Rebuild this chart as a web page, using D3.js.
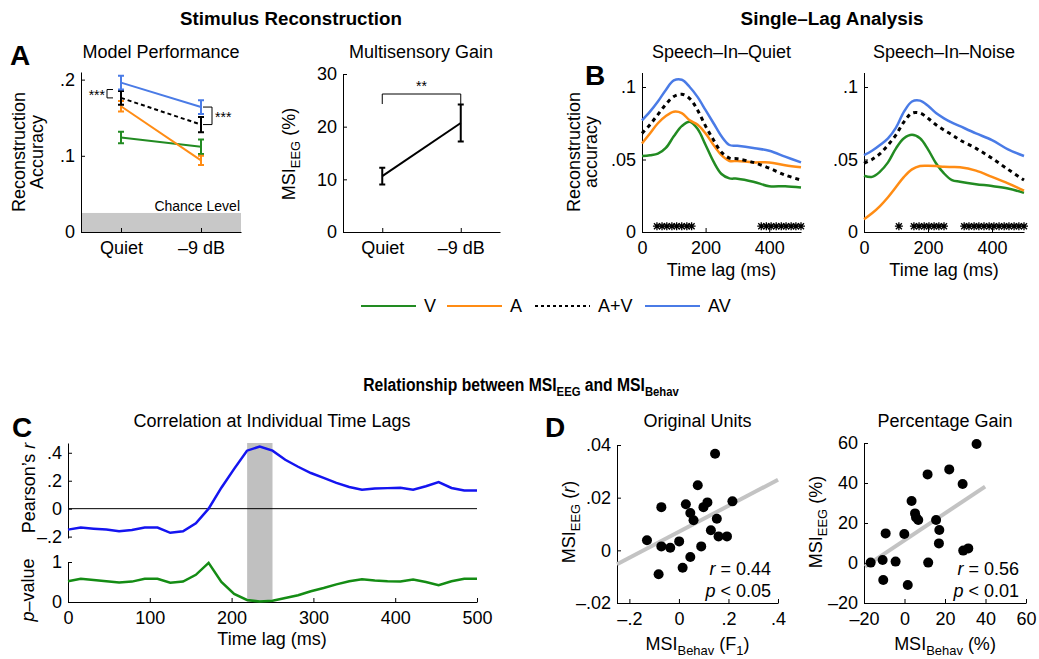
<!DOCTYPE html>
<html>
<head>
<meta charset="utf-8">
<script src="https://cdn.jsdelivr.net/npm/d3@7"></script>
<style>
  body { margin: 0; background: #fff; }
</style>
</head>
<body>
<script>
// ---------------- data ----------------
var conditions = ["V", "A", "A+V", "AV"];

// A: model performance
var perfLevels = ["Quiet", "\u20139 dB"];
var perfV = [0.124, 0.112],     perfVErr = [0.0075, 0.0095];
var perfA = [0.165, 0.094],     perfAErr = [0.007, 0.006];
var perfAplusV = [0.176, 0.141], perfAplusVErr = [0.009, 0.010];
var perfAV = [0.196, 0.164],    perfAVErr = [0.009, 0.009];
var chanceLevel = 0.025;
var perfSigLo = [0.176, 0.141];   // bracket ends, per level
var perfSigHi = [0.187, 0.164];

// A: multisensory gain
var gainMean = [10.6, 20.7];
var gainErr = [1.6, 3.5];
var gainSig = [24.3, 26.2];

// B: single-lag analysis
var lagB = [0, 25, 50, 75, 100, 125, 150, 175, 200, 225, 250, 275, 300, 350, 400, 450, 500];
var quietAV    = [.077, .083, .090, .098, .1045, .105, .100, .093, .084, .075, .066, .060, .0595, .058, .056, .052, .048];
var quietAplusV= [.068, .074, .081, .088, .0935, .095, .092, .084, .073, .0635, .055, .051, .0505, .048, .044, .0393, .0358];
var quietA     = [.061, .068, .075, .080, .083, .082, .077, .074, .068, .060, .053, .049, .049, .048, .048, .046, .0446];
var quietV     = [.0524, .053, .054, .058, .066, .073, .076, .071, .060, .0485, .040, .037, .0368, .0347, .0316, .0316, .0307];
var noiseAV    = [.053, .056, .060, .0646, .072, .083, .090, .0906, .087, .082, .0784, .0755, .073, .068, .0634, .057, .0524];
var noiseAplusV= [.0474, .050, .054, .060, .067, .076, .082, .082, .0784, .074, .0703, .067, .0634, .0577, .0508, .0432, .0358];
var noiseA     = [.0088, .0129, .0179, .024, .031, .038, .0432, .0455, .0457, .0455, .045, .0448, .0446, .0423, .038, .0336, .0285];
var noiseV     = [.0388, .038, .0416, .048, .0577, .0646, .067, .0646, .057, .0474, .0404, .0358, .0347, .033, .0317, .030, .027];
var sigLagsQuiet = [47, 63, 78, 94, 109, 125, 141, 156, 375, 391, 406, 422, 438, 453, 469, 484, 500];
var sigLagsNoise = [109, 156, 172, 188, 203, 219, 234, 250, 313, 328, 344, 359, 375, 391, 406, 422, 438, 453, 469, 484, 500];
var sigMarkLevel = 0.004;

// C: correlation at individual lags
var lagC = [0, 15.6, 31.3, 46.9, 62.5, 78.1, 93.8, 109.4, 125, 140.6, 156.3, 171.9, 187.5, 203.1, 218.8, 234.4,
            250, 265.6, 281.3, 296.9, 312.5, 328.1, 343.8, 359.4, 375, 390.6, 406.3, 421.9, 437.5, 453.1, 468.8, 484.4, 500];
var pearsonR = [-0.15, -0.135, -0.143, -0.15, -0.162, -0.152, -0.135, -0.135, -0.173, -0.162, -0.105, 0.0, 0.15, 0.285, 0.415, 0.445,
                0.415, 0.35, 0.30, 0.255, 0.22, 0.185, 0.155, 0.135, 0.145, 0.147, 0.15, 0.136, 0.16, 0.19, 0.148, 0.13, 0.13];
var pValue = [0.52, 0.58, 0.55, 0.52, 0.49, 0.51, 0.58, 0.58, 0.48, 0.51, 0.68, 0.98, 0.5, 0.2, 0.05, 0.01,
              0.03, 0.1, 0.17, 0.27, 0.35, 0.44, 0.52, 0.57, 0.54, 0.52, 0.51, 0.56, 0.5, 0.42, 0.52, 0.58, 0.58];
var sigWindow = [219, 250];

// D: scatter plots
var origBehav = [-0.129, -0.071, -0.071, -0.082, -0.035, 0.001, 0.015, 0.028, 0.046, 0.046, 0.059, 0.076, 0.090, 0.099, 0.115, 0.129, 0.146, 0.153, 0.160, 0.194, 0.216];
var origEEG   = [0.0038, 0.0164, 0.0015, -0.0091, 0.001, 0.0034, -0.0066, 0.0175, 0.0142, -0.0025, 0.0114, 0.0247, 0.0015, 0.0164, 0.0182, 0.0076, 0.0367, 0.012, 0.0053, 0.0053, 0.0186];
var origFitX = [-0.25, 0.4], origFitY = [-0.0053, 0.0268];
var pctBehav = [-16.7, -10.8, -10.5, -9.3, -4.4, -0.1, 1.6, 3.5, 5.2, 5.7, 6.8, 11.4, 11.7, 15.6, 17.2, 17.0, 22.1, 28.7, 29.0, 31.5, 35.6];
var pctEEG   = [0.2, 1.5, -8.5, 14.8, 0.7, 14.5, -11, 31, 24.8, 22.8, 21.5, 44.3, 0.2, 21.5, 16.5, 9.8, 46.8, 39.5, 6.2, 7.3, 59.5];
var pctFitX = [-19.5, 39.8], pctFitY = [-1.8, 38.2];
var origStats = ["0.44", "0.05"], pctStats = ["0.56", "0.01"];

// ---------------- style ----------------
var FONT = '"Liberation Sans", Arial, Helvetica, sans-serif';
var colors = { "V": "#228b22", "A": "#ff8c14", "A+V": "#000000", "AV": "#4a7be6" };
var dashOf = { "A+V": "4,4" };

var svg = d3.select("body").append("svg")
  .attr("width", 1039).attr("height", 659)
  .style("font-family", FONT);

function axes(x, y, xt, xl, yt, yl, noX) {
  if (!noX) {
    var gx = svg.append("g").attr("transform", "translate(0," + y.range()[0] + ")")
      .call(d3.axisBottom(x).tickValues(xt).tickFormat(function (d, i) { return xl[i]; })
        .tickSizeInner(-4).tickSizeOuter(0).tickPadding(9));
    gx.attr("font-size", 18).attr("font-family", FONT);
  }
  var gy = svg.append("g").attr("transform", "translate(" + x.range()[0] + ",0)")
    .call(d3.axisLeft(y).tickValues(yt).tickFormat(function (d, i) { return yl[i]; })
      .tickSizeInner(-4).tickSizeOuter(0).tickPadding(6));
  gy.attr("font-size", 18).attr("font-family", FONT);
}

function label(x, y, str, opts) {
  opts = opts || {};
  var t = svg.append("text").attr("x", x).attr("y", y)
    .attr("font-size", opts.size || 18)
    .attr("text-anchor", opts.anchor || "middle")
    .attr("font-weight", opts.bold ? "bold" : null)
    .text(str);
  if (opts.rotate) t.attr("transform", "rotate(-90," + x + "," + y + ")");
  return t;
}

// label with pieces: [text, kind] kind: "n" normal, "s" subscript, "i" italic
function richLabel(x, y, parts, opts, parent) {
  opts = opts || {};
  var t = (parent || svg).append("text").attr("x", x).attr("y", y)
    .attr("font-size", opts.size || 18)
    .attr("text-anchor", opts.anchor || "middle")
    .attr("font-weight", opts.bold ? "bold" : null);
  var shift = 0;
  parts.forEach(function (p) {
    var s = t.append("tspan").text(p[0]);
    var want = p[1] === "s" ? 5 : 0;
    if (want !== shift) { s.attr("dy", want - shift); shift = want; }
    if (p[1] === "s") s.attr("font-size", (opts.size || 18) * 0.72);
    if (p[1] === "i") s.attr("font-style", "italic");
  });
  if (opts.rotate) t.attr("transform", "rotate(-90," + x + "," + y + ")");
  return t;
}

// condensed bold heading, squeezed horizontally to a target width
function heading(cx, y, parts, width) {
  var g = svg.append("g");
  var t = richLabel(0, 0, parts, { bold: true, size: 19 }, g);
  var sx = width / t.node().getComputedTextLength();
  g.attr("transform", "translate(" + cx + "," + y + ") scale(" + sx + ",1)");
}

function errorBars(x, y, xs, means, errs, color, cap) {
  xs.forEach(function (xv, i) {
    var px = x(xv);
    var lo = y(means[i] - errs[i]), hi = y(means[i] + errs[i]);
    svg.append("path")
      .attr("d", "M" + px + "," + lo + "V" + hi +
                 "M" + (px - cap) + "," + lo + "H" + (px + cap) +
                 "M" + (px - cap) + "," + hi + "H" + (px + cap))
      .attr("stroke", color).attr("stroke-width", 2).attr("fill", "none");
  });
}

// ---------------- section headings ----------------
heading(291, 25, [["Stimulus Reconstruction", "n"]], 222);
heading(832, 25, [["Single\u2013Lag Analysis", "n"]], 183);
heading(521, 391, [["Relationship between MSI", "n"], ["EEG", "s"], [" and MSI", "n"], ["Behav", "s"]], 316);

label(10, 65, "A", { bold: true, size: 28, anchor: "start" });
label(585, 85, "B", { bold: true, size: 28, anchor: "start" });
label(12, 437, "C", { bold: true, size: 28, anchor: "start" });
label(545, 437, "D", { bold: true, size: 28, anchor: "start" });

// ---------------- A1: model performance ----------------
(function () {
  var x = d3.scaleLinear().domain([0.5, 2.5]).range([81, 241]);
  var y = d3.scaleLinear().domain([0, 0.21]).range([232, 72]);
  svg.append("rect").attr("x", x(0.5)).attr("width", x(2.5) - x(0.5))
    .attr("y", y(chanceLevel)).attr("height", y(0) - y(chanceLevel)).attr("fill", "#c8c8c8");
  label(240, 211, "Chance Level", { size: 14, anchor: "end" });
  axes(x, y, [1, 2], perfLevels, [0, 0.1, 0.2], ["0", ".1", ".2"]);
  label(161, 58, "Model Performance");
  label(25, 152, "Reconstruction", { rotate: true });
  label(43, 152, "Accuracy", { rotate: true });

  var series = [
    { name: "V", mean: perfV, err: perfVErr },
    { name: "A", mean: perfA, err: perfAErr },
    { name: "A+V", mean: perfAplusV, err: perfAplusVErr },
    { name: "AV", mean: perfAV, err: perfAVErr }
  ];
  var lvl = [1, 2];
  series.forEach(function (s) {
    svg.append("path").datum(s.mean)
      .attr("d", d3.line().x(function (d, i) { return x(lvl[i]); }).y(function (d) { return y(d); }))
      .attr("stroke", colors[s.name]).attr("stroke-width", 2).attr("fill", "none")
      .attr("stroke-dasharray", s.name === "A+V" ? "4,3" : null);
    errorBars(x, y, lvl, s.mean, s.err, colors[s.name], 3);
  });
  // significance brackets
  var bx0 = x(1) - 14, bx1 = x(1) - 8;
  svg.append("path").attr("d", "M" + bx1 + "," + y(perfSigHi[0]) + "H" + bx0 + "V" + y(perfSigLo[0]) + "H" + bx1)
    .attr("stroke", "#000").attr("fill", "none");
  label(bx0 - 2, (y(perfSigHi[0]) + y(perfSigLo[0])) / 2 + 6, "***", { size: 14, anchor: "end" });
  var cx0 = x(2) + 2, cx1 = x(2) + 11;
  svg.append("path").attr("d", "M" + cx0 + "," + y(perfSigHi[1]) + "H" + cx1 + "V" + y(perfSigLo[1]) + "H" + cx0)
    .attr("stroke", "#000").attr("fill", "none");
  label(cx1 + 3, (y(perfSigHi[1]) + y(perfSigLo[1])) / 2 + 6, "***", { size: 14, anchor: "start" });
})();

// ---------------- A2: multisensory gain ----------------
(function () {
  var x = d3.scaleLinear().domain([0.5, 2.5]).range([343, 500]);
  var y = d3.scaleLinear().domain([0, 30]).range([232, 74]);
  axes(x, y, [1, 2], perfLevels, [0, 10, 20, 30], ["0", "10", "20", "30"]);
  label(421, 58, "Multisensory Gain");
  richLabel(295, 154, [["MSI", "n"], ["EEG", "s"], [" (%)", "n"]], { rotate: true });
  var lvl = [1, 2];
  svg.append("path").datum(gainMean)
    .attr("d", d3.line().x(function (d, i) { return x(lvl[i]); }).y(function (d) { return y(d); }))
    .attr("stroke", "#000").attr("stroke-width", 2).attr("fill", "none");
  errorBars(x, y, lvl, gainMean, gainErr, "#000", 3);
  svg.append("path")
    .attr("d", "M" + x(1) + "," + y(gainSig[0]) + "V" + y(gainSig[1]) + "H" + x(2) + "V" + y(gainSig[0]))
    .attr("stroke", "#000").attr("fill", "none");
  label((x(1) + x(2)) / 2, y(gainSig[1]) - 3, "**", { size: 14 });
})();

// ---------------- B: single lag ----------------
function lagPanel(x0, x1, title, series, sigLags) {
  var x = d3.scaleLinear().domain([0, 500]).range([x0, x1]);
  var y = d3.scaleLinear().domain([0, 0.11]).range([232, 72.5]);
  axes(x, y, [0, 200, 400], ["0", "200", "400"], [0, 0.05, 0.1], ["0", ".05", ".1"]);
  label((x0 + x1) / 2, 58, title);
  label((x0 + x1) / 2, 276, "Time lag (ms)");
  var line = d3.line().curve(d3.curveCatmullRom.alpha(0.5))
    .x(function (d, i) { return x(lagB[i]); }).y(function (d) { return y(d); });
  series.forEach(function (s) {
    svg.append("path").datum(s.v).attr("d", line)
      .attr("stroke", colors[s.name]).attr("fill", "none")
      .attr("stroke-width", s.name === "A+V" ? 3 : 2.5)
      .attr("stroke-dasharray", dashOf[s.name] || null);
  });
  var r = 4, q = 3;
  svg.append("g").selectAll("path").data(sigLags).join("path")
    .attr("transform", function (d) { return "translate(" + x(d) + "," + y(sigMarkLevel) + ")"; })
    .attr("d", "M" + (-r) + ",0H" + r + "M0," + (-r) + "V" + r + "M" + (-q) + "," + (-q) + "L" + q + "," + q + "M" + (-q) + "," + q + "L" + q + "," + (-q))
    .attr("stroke", "#000").attr("stroke-width", 1.3);
}
lagPanel(642, 801, "Speech\u2013In\u2013Quiet", [
  { name: "V", v: quietV }, { name: "A", v: quietA }, { name: "A+V", v: quietAplusV }, { name: "AV", v: quietAV }
], sigLagsQuiet);
lagPanel(864, 1024, "Speech\u2013In\u2013Noise", [
  { name: "V", v: noiseV }, { name: "A", v: noiseA }, { name: "A+V", v: noiseAplusV }, { name: "AV", v: noiseAV }
], sigLagsNoise);
label(580, 152, "Reconstruction", { rotate: true });
label(597, 152, "accuracy", { rotate: true });

// legend
(function () {
  var lx = [361, 447, 535, 645];
  conditions.forEach(function (c, i) {
    svg.append("line").attr("x1", lx[i]).attr("x2", lx[i] + 55).attr("y1", 306).attr("y2", 306)
      .attr("stroke", colors[c]).attr("stroke-width", 2)
      .attr("stroke-dasharray", c === "A+V" ? "3,3" : null);
    label(lx[i] + 63, 312, c, { anchor: "start" });
  });
})();

// ---------------- C: correlation at lags ----------------
(function () {
  var x = d3.scaleLinear().domain([0, 500]).range([68, 477]);
  var yr = d3.scaleLinear().domain([-0.21, 0.47]).range([538, 443]);
  var yp = d3.scaleLinear().domain([0, 1]).range([602, 562]);
  svg.append("rect").attr("x", x(sigWindow[0])).attr("width", x(sigWindow[1]) - x(sigWindow[0]))
    .attr("y", yr.range()[1]).attr("height", yp(0) - yr.range()[1]).attr("fill", "#c0c0c0");
  svg.append("line").attr("x1", x(0)).attr("x2", x(500)).attr("y1", yr(0)).attr("y2", yr(0))
    .attr("stroke", "#000").attr("stroke-width", 1);
  axes(x, yr, [], [], [-0.2, 0, 0.2, 0.4], ["\u2013.2", "0", ".2", ".4"], true);
  axes(x, yp, [0, 100, 200, 300, 400, 500], ["0", "100", "200", "300", "400", "500"], [0, 1], ["0", "1"]);
  svg.append("path").datum(pearsonR)
    .attr("d", d3.line().x(function (d, i) { return x(lagC[i]); }).y(function (d) { return yr(d); }))
    .attr("stroke", "#1414f0").attr("stroke-width", 2.5).attr("fill", "none");
  svg.append("path").datum(pValue)
    .attr("d", d3.line().x(function (d, i) { return x(lagC[i]); }).y(function (d) { return yp(d); }))
    .attr("stroke", "#148c14").attr("stroke-width", 2.5).attr("fill", "none");
  label(272, 427, "Correlation at Individual Time Lags");
  label(272, 645, "Time lag (ms)");
  richLabel(35, 488, [["Pearson\u2019s ", "n"], ["r", "i"]], { rotate: true });
  richLabel(34, 590, [["p", "i"], ["\u2013value", "n"]], { rotate: true });
})();

// ---------------- D: scatter ----------------
function scatter(xd, xr, yd, yr, xt, xl, yt, yl, bx, by, fx, fy, stats, title, yUnit, xUnit, ylx) {
  var x = d3.scaleLinear().domain(xd).range(xr);
  var y = d3.scaleLinear().domain(yd).range(yr);
  axes(x, y, xt, xl, yt, yl);
  svg.append("line").attr("x1", x(fx[0])).attr("x2", x(fx[1])).attr("y1", y(fy[0])).attr("y2", y(fy[1]))
    .attr("stroke", "#c3c3c3").attr("stroke-width", 4);
  svg.append("g").selectAll("circle").data(bx).join("circle")
    .attr("cx", function (d) { return x(d); }).attr("cy", function (d, i) { return y(by[i]); })
    .attr("r", 5).attr("fill", "#000");
  var cx = (xr[0] + xr[1]) / 2;
  label(cx, 427, title);
  richLabel(xr[1] - 7, 575, [["r", "i"], [" = " + stats[0], "n"]], { anchor: "end" });
  richLabel(xr[1] - 7, 597, [["p", "i"], [" < " + stats[1], "n"]], { anchor: "end" });
  richLabel(cx, 650, [["MSI", "n"], ["Behav", "s"], [" " + xUnit[0], "n"]].concat(xUnit[1] ? [[xUnit[1], "s"], [")", "n"]] : []));
  richLabel(ylx, 522, [["MSI", "n"], ["EEG", "s"], [" " + yUnit[0], "n"]].concat(yUnit[1] ? [[yUnit[1], "i"], [")", "n"]] : []), { rotate: true });
}
scatter([-0.25, 0.4], [617, 778], [-0.02, 0.04], [603, 445],
  [-0.2, 0, 0.2, 0.4], ["\u2013.2", "0", ".2", ".4"], [-0.02, 0, 0.02, 0.04], ["\u2013.02", "0", ".02", ".04"],
  origBehav, origEEG, origFitX, origFitY, origStats, "Original Units", ["(", "r"], ["(F", "1"], 575);
scatter([-20, 60], [864, 1026], [-20, 60], [603, 443],
  [-20, 0, 20, 40, 60], ["\u201320", "0", "20", "40", "60"], [-20, 0, 20, 40, 60], ["\u201320", "0", "20", "40", "60"],
  pctBehav, pctEEG, pctFitX, pctFitY, pctStats, "Percentage Gain", ["(%)", null], ["(%)", null], 822);
</script>
</body>
</html>
